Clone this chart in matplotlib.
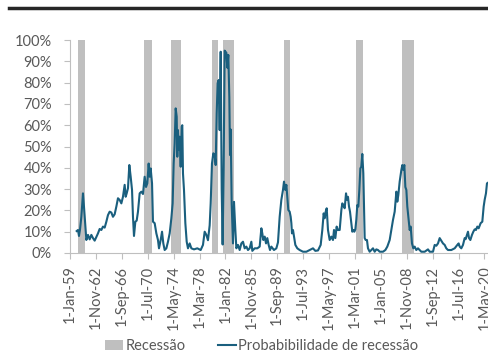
import matplotlib.pyplot as plt
from matplotlib.lines import Line2D
from matplotlib.patches import Patch

plt.rcParams['font.family'] = ['Lato', 'DejaVu Sans']

# recession periods (decimal years, start/end)
recessions = [(1960.18, 1961.27), (1969.95, 1971.14), (1973.90, 1975.48),
              (1980.01, 1980.90), (1981.64, 1983.22), (1990.67, 1991.61),
              (2001.37, 2002.36), (2008.18, 2009.91)]

# recession probability (decimal year, %)
years = [1959.99, 1960.18, 1960.33, 1960.48, 1960.68, 1960.92, 1961.07, 1961.27,
         1961.42, 1961.66, 1961.91, 1962.16, 1962.40, 1962.65, 1963.14, 1963.39,
         1963.64, 1963.88, 1964.13, 1964.38, 1964.62, 1964.87, 1965.12, 1965.36,
         1965.61, 1965.86, 1966.10, 1966.35, 1966.60, 1966.84, 1967.09, 1967.24,
         1967.39, 1967.58, 1967.78, 1967.98, 1968.18, 1968.32, 1968.47, 1968.67,
         1968.87, 1969.06, 1969.31, 1969.56, 1969.80, 1970.05, 1970.25, 1970.44,
         1970.64, 1970.79, 1970.94, 1971.14, 1971.28, 1971.53, 1971.78, 1972.02,
         1972.17, 1972.42, 1972.62, 1972.81, 1973.01, 1973.26, 1973.50, 1973.75,
         1974.00, 1974.19, 1974.34, 1974.49, 1974.64, 1974.79, 1974.88, 1974.98,
         1975.08, 1975.23, 1975.38, 1975.53, 1975.62, 1975.72, 1975.87, 1976.07,
         1976.27, 1976.46, 1976.71, 1976.96, 1977.35, 1977.84, 1978.34, 1978.68,
         1978.93, 1979.18, 1979.42, 1979.67, 1979.82, 1980.01, 1980.21, 1980.41,
         1980.56, 1980.71, 1980.85, 1981.00, 1981.15, 1981.30, 1981.45, 1981.59,
         1981.74, 1981.89, 1982.14, 1982.28, 1982.43, 1982.58, 1982.68, 1982.78,
         1982.93, 1983.12, 1983.27, 1983.47, 1983.62, 1983.86, 1984.11, 1984.36,
         1984.60, 1984.85, 1985.10, 1985.34, 1985.59, 1985.84, 1985.98, 1986.33,
         1986.72, 1987.07, 1987.32, 1987.46, 1987.61, 1987.81, 1988.01, 1988.20,
         1988.40, 1988.60, 1988.80, 1989.19, 1989.54, 1989.78, 1990.03, 1990.28,
         1990.52, 1990.67, 1990.87, 1991.02, 1991.16, 1991.31, 1991.51, 1991.66,
         1991.76, 1991.85, 1992.00, 1992.15, 1992.35, 1992.64, 1992.99, 1993.48,
         1993.98, 1994.47, 1994.96, 1995.31, 1995.70, 1996.10, 1996.34, 1996.54,
         1996.69, 1996.84, 1996.99, 1997.18, 1997.43, 1997.68, 1997.92, 1998.07,
         1998.27, 1998.46, 1998.66, 1998.91, 1999.16, 1999.30, 1999.45, 1999.65,
         1999.85, 1999.99, 2000.14, 2000.29, 2000.44, 2000.63, 2000.78, 2000.93,
         2001.08, 2001.23, 2001.37, 2001.52, 2001.67, 2001.82, 2001.97, 2002.11,
         2002.26, 2002.41, 2002.51, 2002.61, 2002.76, 2002.95, 2003.10, 2003.35,
         2003.59, 2003.84, 2004.09, 2004.33, 2004.58, 2004.83, 2005.32, 2005.67,
         2005.96, 2006.31, 2006.56, 2006.80, 2007.05, 2007.30, 2007.44, 2007.59,
         2007.79, 2008.04, 2008.18, 2008.33, 2008.48, 2008.63, 2008.78, 2008.92,
         2009.12, 2009.27, 2009.42, 2009.61, 2009.81, 2010.01, 2010.25, 2010.50,
         2010.99, 2011.49, 2011.98, 2012.23, 2012.72, 2012.97, 2013.21, 2013.46,
         2013.71, 2013.95, 2014.20, 2014.45, 2014.69, 2014.94, 2015.43, 2015.93,
         2016.32, 2016.52, 2016.67, 2016.91, 2017.16, 2017.41, 2017.55, 2017.75,
         2017.90, 2018.05, 2018.25, 2018.49, 2018.69, 2018.89, 2019.08, 2019.28,
         2019.48, 2019.77, 2020.02, 2020.22, 2020.37, 2020.56, 2020.71, 2020.86]
prob = [10.3, 10.8, 8.0, 11.0, 17.0, 28.0, 21.7, 12.4,
        6.1, 8.5, 6.4, 8.5, 7.0, 5.8, 9.2, 11.3,
        10.8, 12.4, 11.9, 14.7, 17.8, 19.4, 19.0, 17.0,
        18.2, 21.8, 25.7, 24.9, 23.3, 26.4, 32.0, 26.4,
        28.0, 30.4, 41.3, 35.8, 29.6, 17.0, 8.0, 14.7,
        15.2, 19.4, 28.0, 28.8, 27.7, 35.8, 31.0, 32.7,
        42.0, 35.8, 39.7, 32.7, 14.7, 14.0, 9.2, 6.1,
        2.2, 6.1, 10.0, 4.5, 1.4, 2.2, 5.3, 9.2,
        16.3, 23.3, 42.0, 51.5, 67.9, 64.0, 45.2, 57.7,
        48.4, 54.6, 40.5, 59.3, 60.0, 37.4, 29.6, 14.0,
        5.3, 2.2, 4.5, 2.2, 1.7, 2.2, 1.4, 3.8,
        10.0, 8.5, 6.0, 13.0, 23.3, 42.0, 46.8, 46.0,
        41.3, 65.6, 79.7, 81.2, 57.7, 94.5, 30.0, 4.0,
        40.0, 95.0, 94.0, 87.0, 93.0, 73.0, 46.0, 58.0,
        23.0, 4.5, 24.0, 10.8, 2.2, 3.8, 1.4, 4.5,
        5.3, 2.2, 3.0, 1.4, 2.2, 5.3, 1.0, 2.2,
        2.2, 3.0, 11.6, 9.2, 6.1, 7.7, 4.5, 7.0,
        3.8, 1.4, 3.0, 1.4, 2.2, 5.0, 17.0, 25.0,
        29.6, 33.5, 29.6, 32.0, 26.4, 20.2, 19.4, 17.0,
        14.0, 9.2, 10.8, 7.7, 3.8, 2.2, 1.4, 0.6,
        0.6, 1.4, 2.2, 1.0, 1.2, 3.8, 10.8, 18.6,
        16.3, 19.4, 21.0, 10.8, 6.1, 7.7, 6.1, 10.8,
        7.0, 12.4, 10.8, 10.8, 20.2, 23.3, 22.5, 21.0,
        28.0, 25.0, 26.4, 21.8, 19.4, 14.0, 10.0, 10.8,
        10.0, 11.1, 15.5, 22.5, 21.8, 29.6, 39.7, 40.5,
        46.5, 37.4, 23.3, 7.0, 6.1, 6.1, 2.2, 0.6,
        1.4, 2.2, 0.6, 1.7, 1.4, 0.6, 0.6, 1.4,
        3.0, 6.1, 10.8, 15.5, 19.4, 28.8, 24.1, 27.2,
        33.5, 39.0, 41.3, 39.0, 41.3, 31.0, 29.6, 21.8,
        15.5, 10.8, 12.4, 4.5, 2.2, 3.0, 1.4, 2.2,
        0.6, 0.6, 1.7, 0.6, 0.6, 3.8, 3.4, 4.5,
        7.0, 5.8, 4.5, 3.8, 2.2, 1.4, 1.4, 2.2,
        3.8, 4.5, 3.0, 2.2, 3.8, 7.0, 6.5, 8.5,
        10.0, 7.0, 6.1, 8.5, 10.0, 11.1, 10.8, 12.4,
        11.6, 14.0, 14.7, 21.8, 25.0, 28.0, 32.7, 33.0]

tick_labels = ['1-Jan-59', '1-Nov-62', '1-Sep-66', '1-Jul-70', '1-May-74', '1-Mar-78',
               '1-Jan-82', '1-Nov-85', '1-Sep-89', '1-Jul-93', '1-May-97', '1-Mar-01',
               '1-Jan-05', '1-Nov-08', '1-Sep-12', '1-Jul-16', '1-May-20']

gray_txt = '#595959'
line_col = '#1a5f7e'
band_col = '#bfbfbf'

fig = plt.figure(figsize=(4.89, 3.56), dpi=100)
ax = fig.add_axes([70 / 489, 103 / 356, 422 / 489, 213 / 356])

for s, e in recessions:
    ax.axvspan(s, e, color=band_col, lw=0, zorder=1)
ax.plot(years, prob, color=line_col, lw=1.5, zorder=3)

ax.set_xlim(1959.0, 1959.0 + 422 / 6.757)
ax.set_ylim(0, 100)

ticks = [1959 + k * 46 / 12 for k in range(len(tick_labels))]
ax.set_xticks(ticks)
ax.set_xticklabels(tick_labels, rotation=90, fontsize=10.5, color=gray_txt)
ax.set_yticks(range(0, 101, 10))
ax.set_yticklabels([f'{v}%' for v in range(0, 101, 10)], fontsize=10.5, color=gray_txt)
ax.tick_params(axis='both', color='#bfbfbf', length=4, width=0.8)
ax.tick_params(axis='x', pad=5)
ax.tick_params(axis='y', pad=9)

for side in ['top', 'right']:
    ax.spines[side].set_visible(False)
for side in ['left', 'bottom']:
    ax.spines[side].set_color('#bfbfbf')
    ax.spines[side].set_linewidth(0.8)

handles = [Patch(facecolor=band_col, edgecolor='none'),
           Line2D([0], [0], color=line_col, lw=1.5)]
fig.legend(handles, ['Recessão', 'Probabibilidade de recessão'], loc='center',
           bbox_to_anchor=(262 / 489, 10 / 356), ncol=2, frameon=False,
           fontsize=10.5, labelcolor=gray_txt, handlelength=1.2, handletextpad=0.2,
           columnspacing=2.2, borderpad=0)

# heavy rule at the top
fig.add_artist(Line2D([9 / 489, 1], [347.7 / 356] * 2, color='#262626', lw=2.5))

fig.savefig('out.png', dpi=100)
